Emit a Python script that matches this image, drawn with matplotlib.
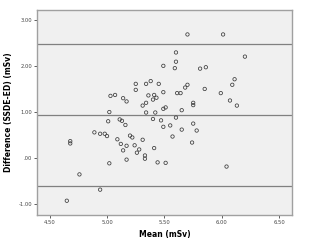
import numpy as np
import matplotlib
matplotlib.use("Agg")
import matplotlib.pyplot as plt

# Bland-Altman style plot: mean vs difference (SSDE - ED)
mean_msv = [5.70, 6.01, 5.60, 6.20, 5.60, 5.59, 5.49, 5.81, 5.86, 6.11,
            6.09, 5.45, 5.38, 5.70, 5.68, 5.85, 5.49, 5.61, 5.64, 5.99,
            6.07, 6.13, 5.75, 5.75, 5.36, 5.41, 5.40, 5.43, 5.25, 5.25,
            5.34, 5.03, 5.07, 5.14, 5.17, 5.34, 5.31, 5.51, 5.49, 5.65,
            5.02, 5.34, 5.42, 5.60, 5.40, 5.47, 5.75, 5.49, 5.55, 5.65,
            5.78, 5.57, 5.74, 5.41, 5.44, 5.51, 6.04, 5.01, 5.11, 5.13,
            5.16, 4.89, 4.94, 4.98, 5.00, 5.09, 5.20, 5.22, 5.31, 5.12,
            5.17, 5.24, 5.28, 5.26, 5.14, 5.33, 5.33, 5.17, 4.68, 4.68,
            5.02, 4.76, 4.94, 4.65]
diff_msv = [2.68, 2.68, 2.29, 2.20, 2.09, 1.95, 2.00, 1.94, 1.97, 1.71,
            1.59, 1.61, 1.67, 1.59, 1.53, 1.50, 1.43, 1.41, 1.41, 1.41,
            1.25, 1.14, 1.20, 1.15, 1.36, 1.37, 1.27, 1.31, 1.61, 1.48,
            1.61, 1.35, 1.37, 1.30, 1.23, 1.20, 1.14, 1.10, 1.07, 1.04,
            1.00, 0.99, 0.99, 0.88, 0.85, 0.82, 0.75, 0.68, 0.71, 0.62,
            0.60, 0.47, 0.34, 0.22, -0.09, -0.10, -0.18, 0.80, 0.84, 0.81,
            0.72, 0.56, 0.53, 0.53, 0.48, 0.41, 0.49, 0.45, 0.40, 0.31,
            0.27, 0.28, 0.19, 0.12, 0.17, 0.06, -0.01, -0.03, 0.37, 0.32,
            -0.11, -0.35, -0.68, -0.92]

ref_lines = [2.47, 0.93, -0.61]  # upper LoA, mean diff, lower LoA
x_ticks = [4.5, 5.0, 5.5, 6.0, 6.5]
y_ticks = [-1.0, 0.0, 1.0, 2.0, 3.0]


def fmt(v):
    s = "%.2f" % v
    if s.startswith("0."):
        s = s[1:]
    return s


fig = plt.figure(figsize=(3.13, 2.43), dpi=100)
fig.patch.set_facecolor("white")
ax = fig.add_axes([0.118, 0.115, 0.815, 0.844])
ax.set_facecolor("#f0f0f0")

for v in ref_lines:
    ax.axhline(v, color="#808080", lw=0.9, zorder=1)

ax.scatter(mean_msv, diff_msv, s=6, facecolors="none", edgecolors="#3a3a3a",
           linewidths=0.55, zorder=2)

ax.set_xlim(4.39, 6.61)
ax.set_ylim(-1.23, 3.21)
ax.set_xticks(x_ticks)
ax.set_xticklabels([fmt(v) for v in x_ticks])
ax.set_yticks(y_ticks)
ax.set_yticklabels([fmt(v) for v in y_ticks])
ax.tick_params(labelsize=3.8, length=2, width=0.6, pad=1.5,
               colors="#444444")

for sp in ax.spines.values():
    sp.set_color("#a0a0a0")
    sp.set_linewidth(1.0)

ax.set_xlabel("Mean (mSv)", fontsize=5.5, fontweight="bold", labelpad=4)
ax.set_ylabel("Difference (SSDE-ED) (mSv)", fontsize=5.5, fontweight="bold",
              labelpad=4)

fig.savefig("out.png", dpi=100)
